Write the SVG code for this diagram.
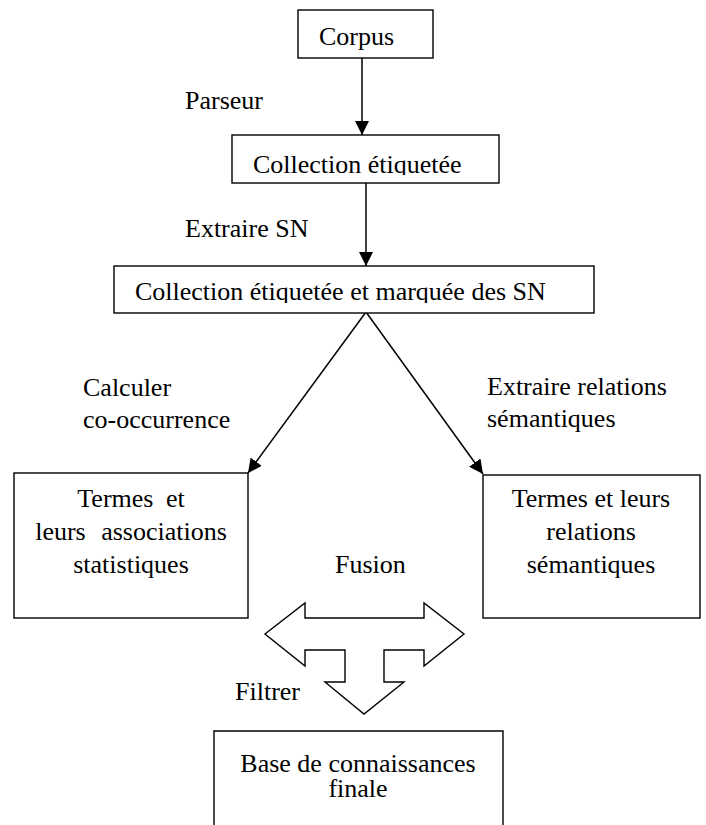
<svg xmlns="http://www.w3.org/2000/svg" width="706" height="825" viewBox="0 0 706 825">
<style>
  text { font-family: "Liberation Serif", "Times New Roman", serif; font-size: 26px; fill: #000; }
  .box { fill: #fff; stroke: #000; stroke-width: 1.4; }
  .conn { stroke: #000; stroke-width: 1.5; fill: none; }
  .mid { text-anchor: middle; }
</style>
<defs>
  <marker id="ah" viewBox="0 0 14 14" refX="14" refY="7" markerWidth="14" markerHeight="14" markerUnits="userSpaceOnUse" orient="auto">
    <path d="M0,0 L14,7 L0,14 Z" fill="#000"/>
  </marker>
  <clipPath id="c2"><rect x="232" y="135" width="267" height="40"/></clipPath>
  <clipPath id="c3"><rect x="114" y="266" width="480" height="37"/></clipPath>
</defs>
<rect width="706" height="825" fill="#fff"/>

<g id="connectors">
  <line class="conn" x1="362" y1="58" x2="362" y2="135" marker-end="url(#ah)"/>
  <line class="conn" x1="366" y1="183" x2="366" y2="266" marker-end="url(#ah)"/>
  <line class="conn" x1="366" y1="312" x2="248" y2="473" marker-end="url(#ah)"/>
  <line class="conn" x1="366" y1="312" x2="483" y2="474" marker-end="url(#ah)"/>
</g>

<g id="labels">
  <text x="185" y="109">Parseur</text>
  <text x="185" y="237">Extraire SN</text>
  <text x="83" y="396">Calculer</text>
  <text x="83" y="428">co-occurrence</text>
  <text x="487" y="395">Extraire relations</text>
  <text x="487" y="427">sémantiques</text>
  <text x="335" y="573">Fusion</text>
  <text x="235" y="700">Filtrer</text>
</g>

<g id="corpus">
  <rect class="box" x="298" y="10" width="135" height="48"/>
  <text x="319" y="45">Corpus</text>
</g>

<g id="collection">
  <rect class="box" x="232" y="135" width="267" height="48"/>
  <text x="253" y="173" clip-path="url(#c2)">Collection étiquetée</text>
</g>

<g id="collection-sn">
  <rect class="box" x="114" y="266" width="480" height="47"/>
  <text x="135" y="300" clip-path="url(#c3)">Collection étiquetée et marquée des SN</text>
</g>

<g id="termes-stat">
  <rect class="box" x="14" y="473" width="234" height="145"/>
  <text class="mid" x="131" y="507" word-spacing="6">Termes et</text>
  <text class="mid" x="131" y="540" word-spacing="9">leurs associations</text>
  <text class="mid" x="131" y="573">statistiques</text>
</g>

<g id="termes-sem">
  <rect class="box" x="483" y="475" width="217" height="143"/>
  <text class="mid" x="591" y="507">Termes et leurs</text>
  <text class="mid" x="591" y="540">relations</text>
  <text class="mid" x="591" y="573">sémantiques</text>
</g>

<g id="fusion">
  <path class="box" d="M265,634 L305,603 L305,618 L424,618 L424,603 L464,634 L424,666 L424,650 L384,650 L384,682 L404,682 L364,714 L325,682 L345,682 L345,650 L305,650 L305,666 Z"/>
</g>

<g id="base">
  <path class="box" d="M214,826 L214,731 L503,731 L503,826"/>
  <text class="mid" x="358" y="772">Base de connaissances</text>
  <text class="mid" x="358" y="797">finale</text>
</g>
</svg>
